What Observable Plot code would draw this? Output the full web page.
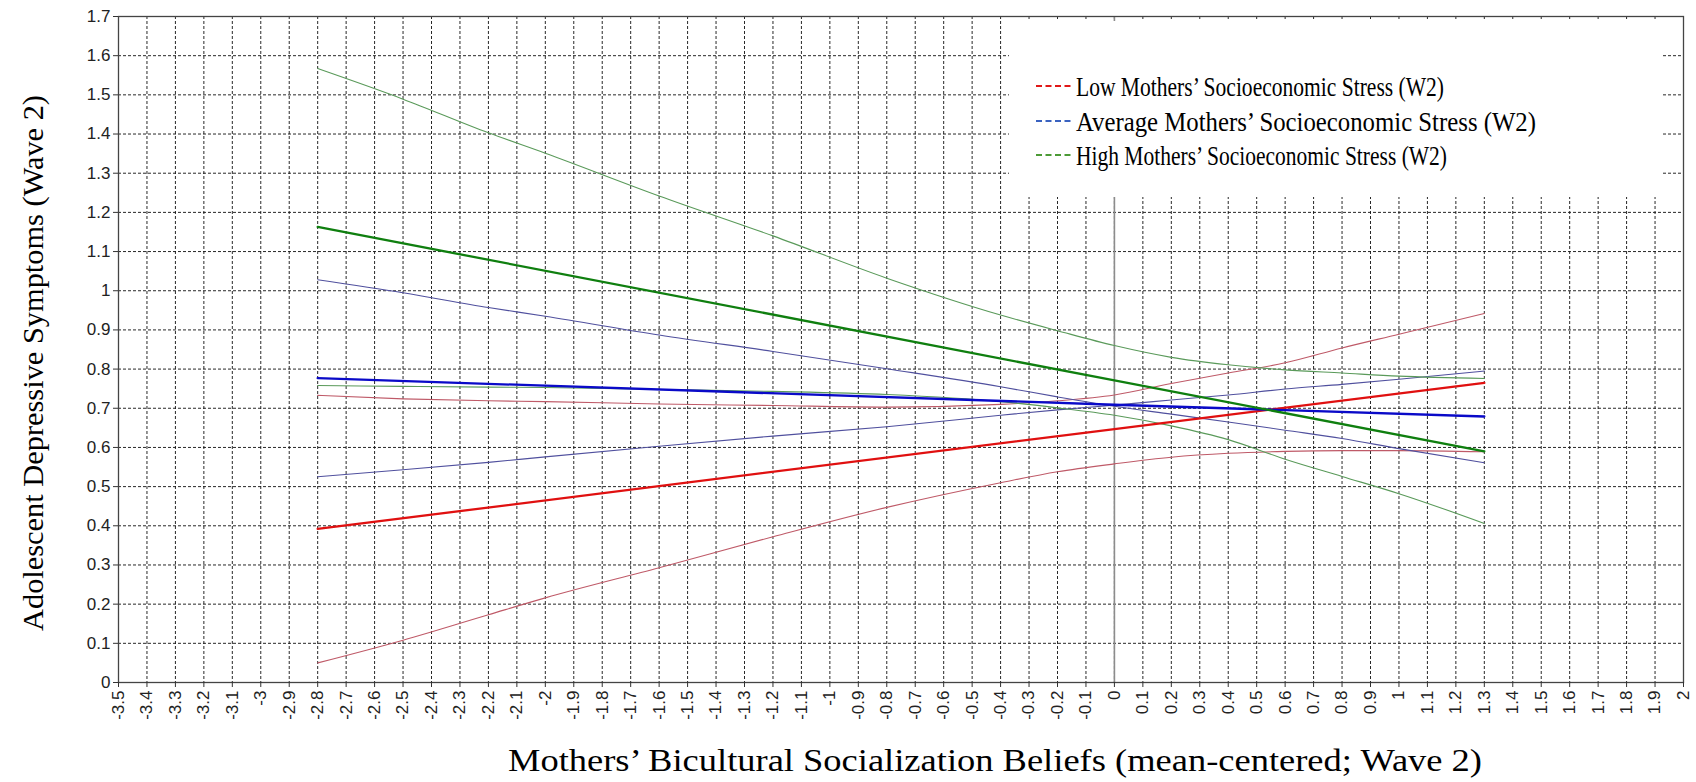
<!DOCTYPE html>
<html>
<head>
<meta charset="utf-8">
<script src="https://cdn.jsdelivr.net/npm/d3@7"></script>
<script src="https://cdn.jsdelivr.net/npm/@observablehq/plot@0.6"></script>
<style>
  body { margin: 0; background: #fff; }
  #chart { width: 1696px; height: 782px; }
</style>
</head>
<body>
<div id="chart"></div>
<script>
// ---- Tick values (axes) ----
const xTicks = [-3.5, -3.4, -3.3, -3.2, -3.1, -3, -2.9, -2.8, -2.7, -2.6, -2.5, -2.4, -2.3, -2.2, -2.1, -2,
  -1.9, -1.8, -1.7, -1.6, -1.5, -1.4, -1.3, -1.2, -1.1, -1, -0.9, -0.8, -0.7, -0.6, -0.5, -0.4, -0.3, -0.2, -0.1,
  0, 0.1, 0.2, 0.3, 0.4, 0.5, 0.6, 0.7, 0.8, 0.9, 1, 1.1, 1.2, 1.3, 1.4, 1.5, 1.6, 1.7, 1.8, 1.9, 2];
const yTicks = [0, 0.1, 0.2, 0.3, 0.4, 0.5, 0.6, 0.7, 0.8, 0.9, 1, 1.1, 1.2, 1.3, 1.4, 1.5, 1.6, 1.7];

// ---- Text ----
const xTitle = "Mothers\u2019 Bicultural Socialization Beliefs (mean-centered; Wave 2)";
const yTitle = "Adolescent Depressive Symptoms (Wave 2)";
const legendLabels = [
  "Low Mothers\u2019 Socioeconomic Stress (W2)",
  "Average Mothers\u2019 Socioeconomic Stress (W2)",
  "High Mothers\u2019 Socioeconomic Stress (W2)"
];

// ---- Data: thick (straight) simple-slope lines ----
const xLine = [-2.8, 0, 1.3];
const lowLine  = [0.392, 0.647, 0.765];
const avgLine  = [0.777, 0.709, 0.679];
const highLine = [1.163, 0.771, 0.590];

// ---- Data: thin (curved) lines ----
const xCurve = [-2.8, -2.5, -2.2, -2.0, -1.6, -1.2, -0.8, -0.4, -0.2, 0, 0.2, 0.4, 0.6, 0.8, 1.0, 1.3];
const lowUpper  = [0.733, 0.724, 0.719, 0.717, 0.711, 0.707, 0.703, 0.710, 0.719, 0.734, 0.763, 0.790, 0.816, 0.854, 0.889, 0.942];
const lowLower  = [0.050, 0.108, 0.173, 0.216, 0.293, 0.372, 0.447, 0.510, 0.538, 0.558, 0.575, 0.585, 0.590, 0.592, 0.592, 0.589];
const avgUpper  = [1.028, 0.995, 0.957, 0.935, 0.887, 0.845, 0.801, 0.755, 0.729, 0.705, 0.685, 0.665, 0.644, 0.623, 0.597, 0.561];
const avgLower  = [0.525, 0.543, 0.562, 0.576, 0.603, 0.629, 0.653, 0.682, 0.696, 0.708, 0.721, 0.734, 0.749, 0.761, 0.774, 0.795];
const highUpper = [1.567, 1.489, 1.403, 1.351, 1.242, 1.140, 1.032, 0.938, 0.898, 0.860, 0.830, 0.811, 0.798, 0.790, 0.782, 0.776];
const highLower = [0.758, 0.756, 0.754, 0.753, 0.748, 0.743, 0.735, 0.717, 0.701, 0.682, 0.655, 0.620, 0.570, 0.526, 0.482, 0.406];

// ---- Colours ----
const thickColors = {low: "#e01010", avg: "#0a0ac8", high: "#0f7f0f"};
const thinColors  = {low: "#bf5a68", avg: "#50509e", high: "#5a9a5a"};
const legendColors = ["#e01818", "#3a62c0", "#4c9a36"];

const rows = (name, xs, ys) => xs.map((x, i) => ({series: name, x, y: ys[i]}));

const thinSeries = [
  ["lowUpper", lowUpper, thinColors.low], ["lowLower", lowLower, thinColors.low],
  ["avgUpper", avgUpper, thinColors.avg], ["avgLower", avgLower, thinColors.avg],
  ["highUpper", highUpper, thinColors.high], ["highLower", highLower, thinColors.high]
];
const thickSeries = [
  ["low", lowLine, thickColors.low], ["avg", avgLine, thickColors.avg], ["high", highLine, thickColors.high]
];

const W = 1696, H = 782;
const mL = 118, mR = 13, mT = 16, mB = 100;

const marks = [
  Plot.gridY(yTicks, {stroke: "#111", strokeOpacity: 0.9, strokeWidth: 1, strokeDasharray: "3,2"}),
  Plot.gridX(xTicks, {stroke: "#111", strokeOpacity: 0.9, strokeWidth: 1, strokeDasharray: "3,2"}),
  Plot.ruleX([0], {stroke: "#8c8c8c", strokeWidth: 1.6}),
  ...thinSeries.map(([name, ys, c]) =>
    Plot.line(rows(name, xCurve, ys), {x: "x", y: "y", stroke: c, strokeWidth: 1.1, curve: "monotone-x"})),
  ...thickSeries.map(([name, ys, c]) =>
    Plot.line(rows(name, xLine, ys), {x: "x", y: "y", stroke: c, strokeWidth: 2.3})),
  Plot.frame({stroke: "#444", strokeWidth: 1.3}),
  Plot.axisY(yTicks, {tickFormat: d => String(d), tickSize: 5, tickPadding: 3, fontSize: 17, label: null, stroke: "#333"}),
  Plot.axisX(xTicks, {tickFormat: d => String(d), tickSize: 5, tickPadding: 3, tickRotate: -90, fontSize: 17, label: null, stroke: "#333"})
];

const chart = Plot.plot({
  width: W, height: H,
  marginLeft: mL, marginRight: mR, marginTop: mT, marginBottom: mB,
  x: {domain: [-3.5, 2]},
  y: {domain: [0, 1.7]},
  style: {fontFamily: "'Liberation Sans', Arial, sans-serif", fontSize: "17px", background: "#fff", color: "#222", overflow: "visible"},
  marks
});
document.getElementById("chart").appendChild(chart);

// ---- Titles and legend (pixel layout) ----
const svg = d3.select(chart);
const serif = "'Liberation Serif', 'Times New Roman', serif";

svg.append("text")
  .attr("x", 995).attr("y", 760)
  .attr("text-anchor", "middle").attr("dominant-baseline", "central")
  .attr("font-family", serif).attr("font-size", 32).attr("fill", "#000")
  .attr("textLength", 974).attr("lengthAdjust", "spacingAndGlyphs")
  .text(xTitle);

svg.append("text")
  .attr("transform", "translate(33,363) rotate(-90)")
  .attr("text-anchor", "middle").attr("dominant-baseline", "central")
  .attr("font-family", serif).attr("font-size", 29).attr("fill", "#000")
  .attr("textLength", 536).attr("lengthAdjust", "spacingAndGlyphs")
  .text(yTitle);

const lg = svg.append("g").attr("text-anchor", "start");
lg.append("rect").attr("x", 1009).attr("y", 21).attr("width", 652).attr("height", 176).attr("fill", "#fff").attr("stroke", "none");
const rowY = [86, 121, 155];
const rowLen = [368, 460, 371];
legendLabels.forEach((t, i) => {
  lg.append("path")
    .attr("d", `M1036,${rowY[i]}H1071`)
    .attr("fill", "none")
    .attr("stroke", legendColors[i]).attr("stroke-width", 1.8).attr("stroke-dasharray", "6,3.5");
  lg.append("text")
    .attr("x", 1076).attr("y", rowY[i])
    .attr("text-anchor", "start")
    .attr("dominant-baseline", "central")
    .attr("font-family", serif).attr("font-size", 28).attr("fill", "#000")
    .attr("textLength", rowLen[i]).attr("lengthAdjust", "spacingAndGlyphs")
    .text(t);
});
</script>
</body>
</html>
